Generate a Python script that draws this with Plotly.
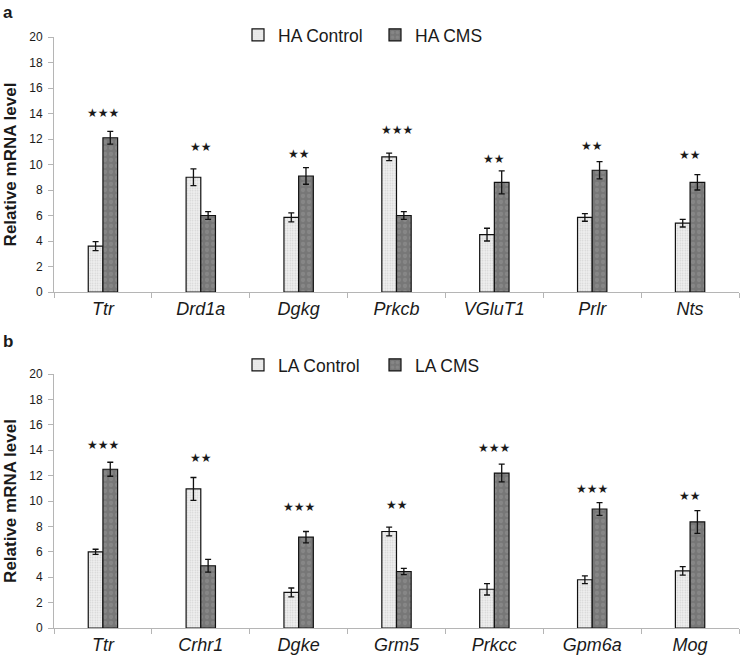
import plotly.graph_objects as go

genes_a = ["Ttr", "Drd1a", "Dgkg", "Prkcb", "VGluT1", "Prlr", "Nts"]
ctrl_a = [3.6, 9.0, 5.85, 10.6, 4.5, 5.85, 5.4]
ctrl_a_err = [0.35, 0.65, 0.35, 0.3, 0.5, 0.3, 0.3]
cms_a = [12.1, 6.0, 9.1, 6.0, 8.6, 9.55, 8.6]
cms_a_err = [0.5, 0.3, 0.65, 0.3, 0.9, 0.68, 0.6]
stars_a = ["★★★", "★★", "★★", "★★★", "★★", "★★", "★★"]
stars_a_y = [14.0, 11.4, 10.8, 12.7, 10.4, 11.45, 10.75]

genes_b = ["Ttr", "Crhr1", "Dgke", "Grm5", "Prkcc", "Gpm6a", "Mog"]
ctrl_b = [6.0, 10.95, 2.8, 7.6, 3.05, 3.8, 4.5]
ctrl_b_err = [0.2, 0.9, 0.35, 0.35, 0.45, 0.3, 0.33]
cms_b = [12.5, 4.9, 7.15, 4.45, 12.2, 9.37, 8.35]
cms_b_err = [0.55, 0.5, 0.45, 0.25, 0.7, 0.5, 0.9]
stars_b = ["★★★", "★★", "★★★", "★★", "★★★", "★★★", "★★"]
stars_b_y = [14.4, 13.35, 9.55, 9.7, 14.2, 10.95, 10.4]

y_ticks = [0, 2, 4, 6, 8, 10, 12, 14, 16, 18, 20]

W, H = 741, 660
FONT = "Liberation Sans, Arial, Helvetica, sans-serif"
TXT = "#1a1a1a"


def px(sx):
    return sx / W


def py(sy):
    return 1 - sy / H


ctrl_marker = dict(color="#efefef",
                   line=dict(color="#111111", width=1.2),
                   pattern=dict(shape=".", fgcolor="#b0b0b0", bgcolor="#f0f0f0",
                                size=2.5, solidity=0.3))
cms_marker = dict(color="#7d7d7d",
                  line=dict(color="#111111", width=1.2),
                  pattern=dict(shape=".", fgcolor="#969696", bgcolor="#777777",
                               size=6, solidity=0.4))
err_style = dict(type="data", color="#111111", thickness=1.3, width=3)

fig = go.Figure()

panels = [
    ("x", "y", "legend", genes_a, ctrl_a, ctrl_a_err, cms_a, cms_a_err, "HA Control", "HA CMS"),
    ("x2", "y2", "legend2", genes_b, ctrl_b, ctrl_b_err, cms_b, cms_b_err, "LA Control", "LA CMS"),
]
for xa, ya, lg, genes, c, ce, m, me, n1, n2 in panels:
    fig.add_trace(go.Bar(x=genes, y=c, name=n1, xaxis=xa, yaxis=ya, legend=lg,
                         marker=ctrl_marker, error_y=dict(array=ce, **err_style)))
    fig.add_trace(go.Bar(x=genes, y=m, name=n2, xaxis=xa, yaxis=ya, legend=lg,
                         marker=cms_marker, error_y=dict(array=me, **err_style)))

annotations = []
for xa, ya, genes, st, sty in [("x", "y", genes_a, stars_a, stars_a_y),
                               ("x2", "y2", genes_b, stars_b, stars_b_y)]:
    for g, s, yy in zip(genes, st, sty):
        annotations.append(dict(x=g, y=yy, xref=xa, yref=ya, text=s, showarrow=False,
                                font=dict(family="DejaVu Sans", size=12, color=TXT),
                                xanchor="center", yanchor="middle"))

annotations.append(dict(x=px(8), y=py(12), xref="paper", yref="paper", text="<b>a</b>",
                        showarrow=False, font=dict(family=FONT, size=17, color=TXT),
                        xanchor="center", yanchor="middle"))
annotations.append(dict(x=px(8), y=py(341), xref="paper", yref="paper", text="<b>b</b>",
                        showarrow=False, font=dict(family=FONT, size=17, color=TXT),
                        xanchor="center", yanchor="middle"))

x_dom = [px(54), px(739)]
ya_dom = [py(292), py(37)]
yb_dom = [py(628), py(374)]


def xaxis(anchor):
    return dict(domain=x_dom, anchor=anchor, type="category", showgrid=False,
                showline=True, linecolor="#b5b5b5", linewidth=1,
                ticks="outside", tickson="boundaries", ticklen=5, tickcolor="#b5b5b5",
                tickfont=dict(family=FONT, size=18, color=TXT, style="italic"),
                zeroline=False, fixedrange=True, automargin=False)


def yaxis(dom, anchor):
    return dict(domain=dom, anchor=anchor, range=[0, 20], tickvals=y_ticks,
                showgrid=False, zeroline=False, showline=True, linecolor="#b5b5b5",
                linewidth=1, ticks="outside", ticklen=5, tickcolor="#b5b5b5",
                tickfont=dict(family=FONT, size=12, color=TXT),
                ticklabelstandoff=3, automargin=False,
                title=dict(text="<b>Relative mRNA level</b>",
                           font=dict(family=FONT, size=17, color=TXT), standoff=8))


legend_common = dict(orientation="h", bgcolor="rgba(0,0,0,0)",
                     font=dict(family=FONT, size=17.5, color=TXT),
                     xanchor="left", yanchor="middle", itemwidth=30,
                     entrywidth=92, entrywidthmode="pixels",
                     traceorder="normal")

fig.update_layout(
    width=W, height=H,
    margin=dict(l=0, r=0, t=0, b=0, autoexpand=False),
    paper_bgcolor="white", plot_bgcolor="white",
    barmode="group", bargap=0.70, bargroupgap=0,
    xaxis=xaxis("y"), yaxis=yaxis(ya_dom, "x"),
    xaxis2=xaxis("y2"), yaxis2=yaxis(yb_dom, "x2"),
    legend=dict(x=px(238), y=py(35), **legend_common),
    legend2=dict(x=px(238), y=py(365), **legend_common),
    annotations=annotations,
    showlegend=True,
)

fig.write_html("out.html", config={"displayModeBar": False},
               post_script="document.body.style.margin='0';document.body.style.padding='0';")
